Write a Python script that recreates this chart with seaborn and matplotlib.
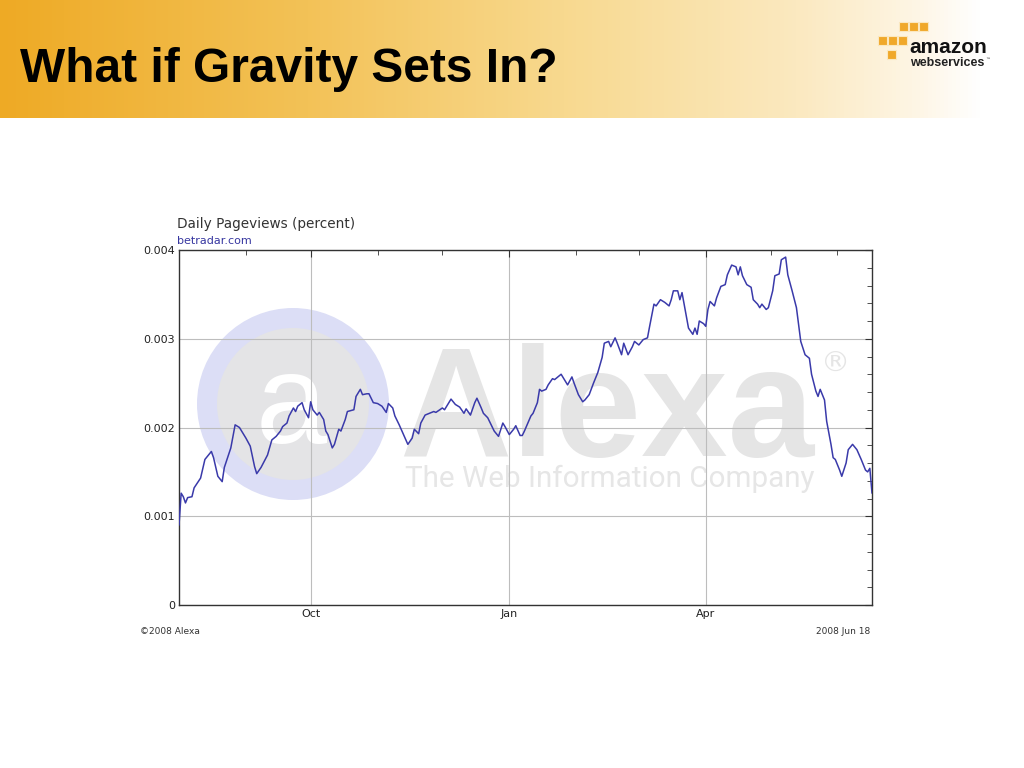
import numpy as np
import pandas as pd
import matplotlib
matplotlib.use("Agg")
import matplotlib.pyplot as plt
import matplotlib.dates as mdates
from matplotlib.patches import Ellipse, Rectangle
from matplotlib.colors import LinearSegmentedColormap
import seaborn as sns

# dados (Alexa, betradar.com)
start_date = "2007-08-01"
days = [0, 1, 2, 3, 4, 6, 7, 10, 12, 15,
        16, 18, 20, 21, 24, 25, 26, 28, 31, 33,
        35, 36, 38, 41, 43, 45, 47, 48, 50, 51,
        53, 54, 55, 57, 58, 60, 61, 62, 64, 65,
        67, 68, 69, 71, 72, 74, 75, 77, 78, 81,
        82, 84, 85, 87, 88, 90, 92, 94, 96, 97,
        99, 100, 102, 104, 106, 108, 109, 111, 112, 114,
        116, 118, 119, 122, 123, 125, 126, 128, 130, 132,
        133, 135, 137, 138, 140, 141, 143, 145, 146, 148,
        150, 151, 153, 155, 156, 158, 159, 160, 163, 164,
        166, 167, 168, 170, 171, 173, 174, 176, 177, 179,
        180, 182, 183, 185, 187, 188, 190, 192, 194, 196,
        197, 199, 200, 202, 203, 205, 206, 208, 210, 211,
        213, 215, 217, 218, 220, 221, 223, 225, 227, 228,
        229, 231, 232, 233, 235, 236, 238, 239, 240, 241,
        243, 244, 245, 246, 248, 249, 251, 253, 254, 256,
        258, 259, 260, 261, 263, 265, 266, 268, 269, 270,
        272, 273, 275, 276, 278, 279, 281, 282, 284, 286,
        287, 288, 290, 292, 293, 295, 296, 297, 299, 300,
        302, 303, 304, 306, 307, 309, 310, 312, 314, 316,
        318, 319, 320, 321]

# pageviews em milesimos de percento
pageviews_milli = [0.90, 1.26, 1.22, 1.15, 1.21, 1.22, 1.32, 1.43, 1.64, 1.73,
                   1.66, 1.45, 1.39, 1.55, 1.77, 1.90, 2.03, 2.00, 1.88, 1.79,
                   1.56, 1.48, 1.55, 1.69, 1.86, 1.90, 1.96, 2.01, 2.05, 2.13,
                   2.22, 2.18, 2.24, 2.28, 2.20, 2.11, 2.29, 2.20, 2.14, 2.17,
                   2.09, 1.96, 1.92, 1.77, 1.81, 1.98, 1.96, 2.09, 2.18, 2.20,
                   2.35, 2.43, 2.37, 2.38, 2.38, 2.28, 2.27, 2.24, 2.17, 2.27,
                   2.22, 2.13, 2.03, 1.92, 1.81, 1.88, 1.98, 1.93, 2.05, 2.14,
                   2.16, 2.18, 2.17, 2.22, 2.20, 2.28, 2.32, 2.26, 2.23, 2.16,
                   2.21, 2.14, 2.28, 2.33, 2.22, 2.16, 2.11, 2.01, 1.96, 1.90,
                   2.05, 2.01, 1.92, 1.98, 2.02, 1.91, 1.91, 1.96, 2.13, 2.16,
                   2.28, 2.43, 2.41, 2.43, 2.48, 2.55, 2.54, 2.58, 2.60, 2.52,
                   2.48, 2.57, 2.50, 2.37, 2.29, 2.31, 2.37, 2.50, 2.62, 2.79,
                   2.95, 2.97, 2.91, 3.01, 2.95, 2.82, 2.95, 2.82, 2.91, 2.97,
                   2.93, 2.99, 3.01, 3.14, 3.39, 3.37, 3.44, 3.41, 3.37, 3.44,
                   3.54, 3.54, 3.44, 3.52, 3.25, 3.12, 3.05, 3.12, 3.05, 3.20,
                   3.17, 3.14, 3.33, 3.42, 3.37, 3.46, 3.59, 3.61, 3.72, 3.83,
                   3.81, 3.72, 3.81, 3.71, 3.61, 3.58, 3.44, 3.39, 3.35, 3.39,
                   3.33, 3.35, 3.54, 3.71, 3.73, 3.89, 3.92, 3.72, 3.54, 3.35,
                   3.16, 2.97, 2.82, 2.78, 2.60, 2.41, 2.35, 2.43, 2.31, 2.07,
                   1.81, 1.66, 1.64, 1.52, 1.45, 1.60, 1.75, 1.81, 1.75, 1.64,
                   1.52, 1.50, 1.54, 1.26]

yticks = [0, 0.001, 0.002, 0.003, 0.004]
ytick_labels = ["0", "0.001", "0.002", "0.003", "0.004"]
end_day = 321

df = pd.DataFrame({
    "data": pd.Timestamp(start_date) + pd.to_timedelta(days, unit="D"),
    "pageviews": np.array(pageviews_milli) / 1000,
})

sns.set_style("white")
plt.rcParams["font.family"] = ["DejaVu Sans"]

W, H = 1024, 768
fig = plt.figure(figsize=(W / 100, H / 100), dpi=100)
fig.patch.set_facecolor("white")

# faixa do titulo com degrade
hdr = fig.add_axes([0, 1 - 118 / H, 1, 118 / H])
cmap = LinearSegmentedColormap.from_list(
    "hdr", [(0.0, "#eeaa25"), (0.3, "#f3c257"), (0.55, "#f8d98f"),
            (0.78, "#fbe9c0"), (0.9, "#fef6e6"), (0.96, "#ffffff"), (1.0, "#ffffff")])
hdr.imshow(np.linspace(0, 1, 512)[None, :], aspect="auto", cmap=cmap,
           extent=[0, 1, 0, 1])
hdr.set_xlim(0, 1)
hdr.set_ylim(0, 1)
hdr.axis("off")

fig.text(20 / W, 1 - 82 / H, "What if Gravity Sets In?", fontsize=34.5,
         fontweight="bold", family="Liberation Sans", color="black", va="baseline")

# logo amazon web services (aproximado)
for (bx, by, bw) in [(899, 22, 9), (909, 22, 9), (919, 22, 9),
                     (878, 36, 9), (888, 36, 9), (898, 36, 9),
                     (887, 50, 9)]:
    fig.patches.append(Rectangle((bx / W, 1 - (by + bw) / H), bw / W, bw / H,
                                 transform=fig.transFigure, facecolor="#f0a82a",
                                 edgecolor="#fbe8c0", lw=0.8))
fig.text(909 / W, 1 - 53 / H, "amazon", fontsize=15, fontweight="bold",
         family="Liberation Sans", color="#111111", va="baseline")
fig.text(910 / W, 1 - 66 / H, "webservices", fontsize=9, fontweight="bold",
         family="Liberation Sans", color="#222222", va="baseline")
fig.text(985 / W, 1 - 61 / H, "\u2122", fontsize=3.5, color="#222222", va="baseline")

# grafico principal
ax = fig.add_axes([179 / W, 1 - 605 / H, 693 / W, 355 / H])
ax.set_axisbelow(True)

# marca d'agua Alexa
ax.add_patch(Ellipse((293 / W, 1 - 404 / H), 192 / W, 192 / H, transform=fig.transFigure,
                     facecolor="#dcdef6", edgecolor="none", zorder=0.1))
ax.add_patch(Ellipse((293 / W, 1 - 404 / H), 152 / W, 152 / H, transform=fig.transFigure,
                     facecolor="#e4e4e6", edgecolor="none", zorder=0.15))
ax.text(291 / W, 1 - 410 / H, "a", transform=fig.transFigure, fontsize=92,
        family="Liberation Sans", color="white", ha="center", va="center", zorder=0.2)
ax.text(399 / W, 1 - 456 / H, "Alexa", transform=fig.transFigure, fontsize=112,
        fontweight="bold", family="Liberation Sans", color="#e5e5e5",
        va="baseline", zorder=0.2)
ax.text(836 / W, 1 - 364 / H, "\u00ae", transform=fig.transFigure, fontsize=21,
        color="#e5e5e5", ha="center", va="center", zorder=0.2)
ax.text(405 / W, 1 - 487 / H, "The Web Information Company", transform=fig.transFigure,
        fontsize=21.3, family="Roboto", color="#e6e6e6", va="baseline",
        fontstretch="condensed", zorder=0.2)

sns.lineplot(data=df, x="data", y="pageviews", ax=ax, color="#3a3aaa", linewidth=1.1,
             zorder=3)

x0 = pd.Timestamp(start_date)
ax.set_xlim(x0, x0 + pd.Timedelta(days=end_day))
ax.set_ylim(0, 0.004)
ax.set_yticks(yticks)
ax.set_yticklabels(ytick_labels)
ax.yaxis.set_minor_locator(matplotlib.ticker.MultipleLocator(0.0002))
ax.xaxis.set_major_locator(mdates.MonthLocator(bymonth=[1, 4, 7, 10]))
ax.xaxis.set_major_formatter(mdates.DateFormatter("%b"))
ax.xaxis.set_minor_locator(mdates.MonthLocator())
ax.set_xlabel("")
ax.set_ylabel("")

ax.grid(True, which="major", color="#bdbdbd", linewidth=0.8)
ax.tick_params(axis="both", which="both", direction="in", top=True, right=True,
               color="#333333", labelsize=8, labelcolor="#222222", pad=3)
ax.tick_params(axis="both", which="major", length=5)
ax.tick_params(axis="both", which="minor", length=3.5)
for s in ax.spines.values():
    s.set_color("#333333")
    s.set_linewidth(1)

fig.text(177 / W, 1 - 228 / H, "Daily Pageviews (percent)", fontsize=9.8,
         color="#333333", va="baseline")
fig.text(177 / W, 1 - 244 / H, "betradar.com", fontsize=8, color="#3636a0",
         va="baseline")
fig.text(140 / W, 1 - 634 / H, "\u00a92008 Alexa", fontsize=6.5, color="#333333",
         va="baseline")
fig.text(870 / W, 1 - 634 / H, "2008 Jun 18", fontsize=6.5, color="#333333",
         va="baseline", ha="right")

fig.savefig("out.png", dpi=100, facecolor="white")
